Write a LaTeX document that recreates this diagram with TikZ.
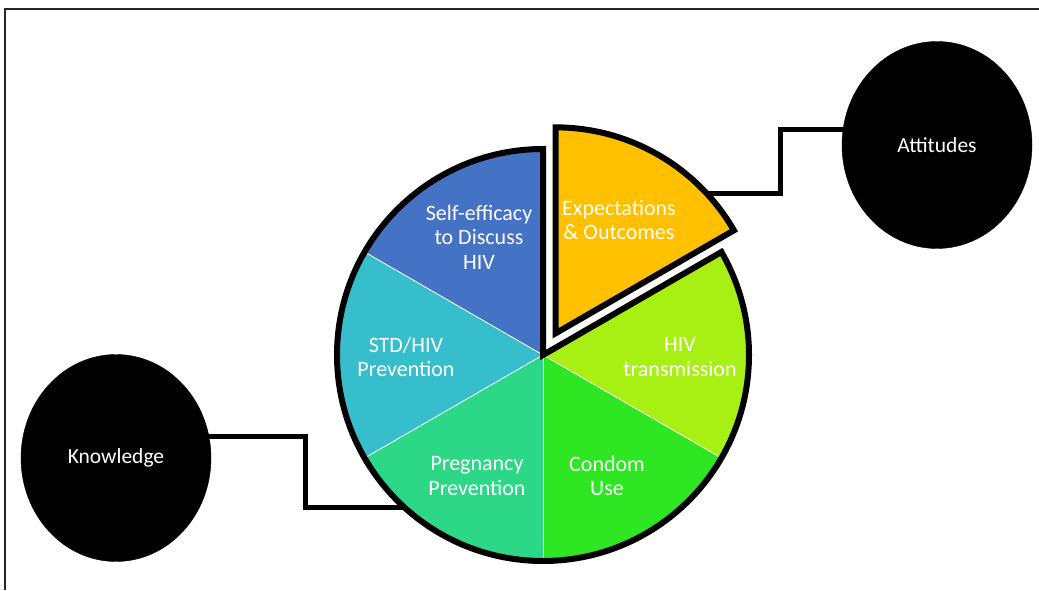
\documentclass[tikz,border=0pt]{standalone}
\usepackage{fontspec}
\setmainfont{Carlito}
\usetikzlibrary{shapes.geometric,calc}
\definecolor{effblue}{RGB}{68,114,196}
\definecolor{stdcyan}{RGB}{54,190,205}
\definecolor{preggreen}{RGB}{44,216,136}
\definecolor{condgreen}{RGB}{46,230,34}
\definecolor{hivlime}{RGB}{168,240,20}
\definecolor{expyellow}{RGB}{255,192,0}
\tikzset{
	blob/.style={ellipse, fill=black, draw=black, text=white, minimum width=190pt, minimum height=207pt, inner sep=0pt, font=\fontsize{21.5}{24}\selectfont},
	link/.style={line width=5pt},
	slicetext/.style={text=white, align=center, font=\fontsize{22}{24.5}\selectfont},
	rim/.style={line width=6pt}
}

\begin{document}
\begin{tikzpicture}[x=1pt, y=1pt]
	\useasboundingbox (0,0) rectangle (1039,590);
	\fill[white] (0,0) rectangle (1039,590);
	\draw[line width=2pt, black!85] (1039,581) -- (5,581) -- (5,0);

	\coordinate (pie) at (543,235);
	\coordinate (expl) at ($(pie)+(60:25)$);
	\coordinate (kend) at ($(pie)+(227.6:206)$);
	\coordinate (aend) at ($(expl)+(42.9:206)$);

	\node[blob] (knowledge) at (116,132) {Knowledge};
	\node[blob] (attitudes) at (937,445) {Attitudes};

	\draw[link] ([yshift=22pt]knowledge.center) -| ([xshift=-99pt]kend) -- (kend);
	\draw[link] ([yshift=15pt]attitudes.center) -| ([xshift=74pt]aend) -- (aend);

	\foreach \a/\col in {90/effblue, 150/stdcyan, 210/preggreen, 270/condgreen, 330/hivlime}
		\fill[\col, shift={(pie)}] (0,0) -- (\a:206) arc[start angle=\a, end angle=\a+60, radius=206] -- cycle;
	\foreach \a in {150,210,270,330}
		\draw[white, line width=0.8pt, shift={(pie)}] (0,0) -- (\a:206);
	\draw[rim, shift={(pie)}] (0,0) -- (90:206) arc[start angle=90, end angle=390, radius=206] -- cycle;

	\filldraw[fill=expyellow, rim, shift={(expl)}] (0,0) -- (30:206) arc[start angle=30, end angle=90, radius=206] -- cycle;

	\node[slicetext] (selfeff) at (479,353) {Self-efficacy\\to Discuss\\HIV};
	\node[slicetext] (expect) at (619,370) {Expectations\\\& Outcomes};
	\node[slicetext] (hivtrans) at (680,233) {HIV\\transmission};
	\node[slicetext] (stdhiv) at (406,233) {STD/HIV\\Prevention};
	\node[slicetext] (pregprev) at (477,114) {Pregnancy\\Prevention};
	\node[slicetext] (condom) at (607,114) {Condom\\Use};

\end{tikzpicture}
\end{document}
